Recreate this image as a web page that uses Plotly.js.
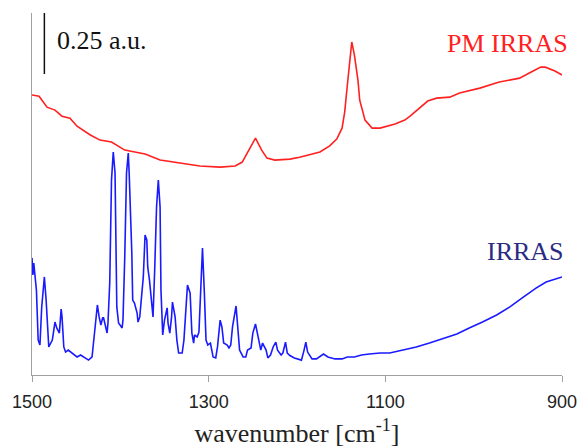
<!DOCTYPE html>
<html>
<head>
<meta charset="utf-8">
<script src="https://cdn.plot.ly/plotly-3.0.1.min.js"></script>
<style>html,body{margin:0;padding:0;background:#fff;}#chart{width:579px;height:448px;}</style>
</head>
<body>
<div id="chart"></div>
<script>
// Wavenumber axis ticks
const tickVals = [1500, 1300, 1100, 900];

// PM IRRAS spectrum (offset, a.u.)
const pmWavenumber = [1500,1492,1483,1474,1466,1457,1449,1434,1423,1410,1395,1372,1355,1333,1310,1287,1270,1262,1253,1247,1240,1234,1225,1208,1197,1174,1163,1155,1149,1146,1143,1140,1138,1135,1131,1129,1123,1115,1106,1089,1078,1072,1061,1052,1042,1027,1016,993,971,948,937,924,919,908,900];
const pmSignal = [1.148,1.143,1.098,1.086,1.061,1.053,1.020,0.984,0.963,0.955,0.922,0.906,0.881,0.869,0.857,0.852,0.857,0.873,0.930,0.971,0.922,0.889,0.881,0.885,0.893,0.914,0.939,0.967,1.012,1.078,1.189,1.311,1.365,1.311,1.209,1.127,1.045,1.012,1.012,1.029,1.045,1.061,1.094,1.123,1.135,1.139,1.156,1.176,1.201,1.217,1.238,1.262,1.262,1.246,1.230];

// IRRAS spectrum (a.u.)
const irWavenumber = [1500,1499,1498,1495,1493,1491,1489,1486,1484,1482,1481,1477,1476,1474,1472,1469,1467,1466,1464,1462,1459,1455,1449,1445,1440,1436,1432,1430,1426,1424,1422,1420,1419,1415,1414,1412,1410,1408,1406,1404,1402,1398,1397,1395,1393,1391,1390,1387,1386,1384,1381,1380,1378,1374,1372,1370,1369,1367,1364,1363,1361,1359,1357,1355,1354,1352,1350,1347,1346,1344,1342,1341,1338,1336,1334,1330,1328,1326,1324,1321,1319,1317,1316,1313,1311,1309,1307,1305,1303,1301,1298,1295,1292,1290,1287,1285,1283,1279,1277,1275,1273,1269,1267,1265,1261,1258,1256,1252,1250,1247,1244,1241,1239,1235,1233,1230,1227,1224,1222,1218,1216,1213,1211,1208,1203,1195,1192,1190,1188,1183,1178,1172,1170,1165,1157,1149,1143,1135,1127,1118,1106,1095,1080,1065,1050,1035,1019,1005,990,974,959,945,929,918,906,900];
const irSignal = [0.480,0.410,0.459,0.348,0.143,0.123,0.279,0.402,0.307,0.156,0.115,0.143,0.176,0.217,0.193,0.172,0.270,0.238,0.115,0.094,0.102,0.090,0.074,0.082,0.070,0.061,0.074,0.143,0.287,0.238,0.205,0.234,0.234,0.172,0.213,0.377,0.799,0.914,0.828,0.279,0.213,0.193,0.225,0.484,0.828,0.910,0.828,0.500,0.307,0.295,0.254,0.217,0.238,0.402,0.574,0.553,0.443,0.389,0.279,0.238,0.443,0.689,0.799,0.689,0.348,0.164,0.225,0.275,0.213,0.172,0.238,0.299,0.238,0.143,0.090,0.090,0.143,0.279,0.369,0.336,0.172,0.131,0.164,0.156,0.176,0.348,0.520,0.348,0.143,0.123,0.131,0.074,0.070,0.115,0.225,0.197,0.131,0.123,0.111,0.123,0.197,0.283,0.197,0.102,0.074,0.074,0.102,0.111,0.172,0.209,0.156,0.102,0.131,0.102,0.070,0.082,0.115,0.135,0.102,0.082,0.090,0.135,0.090,0.080,0.070,0.061,0.102,0.135,0.094,0.066,0.066,0.082,0.086,0.074,0.066,0.066,0.074,0.074,0.082,0.086,0.090,0.090,0.102,0.115,0.131,0.148,0.168,0.193,0.217,0.246,0.279,0.316,0.357,0.381,0.393,0.402];

// Scale bar: 0.25 a.u.
const scaleBarX = 1486;
const scaleBarBottom = 1.234;
const scaleBarLength = 0.25;

const serif = '"Liberation Serif", "Times New Roman", serif';
const sans = '"Liberation Sans", Arial, sans-serif';

const traces = [
  {x: pmWavenumber, y: pmSignal, type: 'scatter', mode: 'lines', name: 'PM IRRAS',
   line: {color: '#ff2020', width: 1.6}, hoverinfo: 'x+y'},
  {x: irWavenumber, y: irSignal, type: 'scatter', mode: 'lines', name: 'IRRAS',
   line: {color: '#1a1aff', width: 1.6}, hoverinfo: 'x+y'}
];

const layout = {
  width: 579, height: 448,
  margin: {l: 32, r: 17, t: 13, b: 73},
  paper_bgcolor: '#ffffff', plot_bgcolor: '#ffffff',
  showlegend: false,
  xaxis: {
    range: [1500, 900], tickvals: tickVals, ticktext: tickVals.map(String),
    ticks: 'outside', ticklen: 6, tickcolor: '#a0a0a0', tickwidth: 1,
    showline: true, linecolor: '#a0a0a0', linewidth: 1, mirror: false,
    showgrid: false, zeroline: false,
    tickfont: {family: sans, size: 18, color: '#222222'},
    ticklabelstandoff: 4,
    title: {text: 'wavenumber [cm<sup>-1</sup>]', font: {family: serif, size: 26, color: '#222222'}, standoff: 13}
  },
  yaxis: {
    range: [0, 1.484], showline: true, linecolor: '#a0a0a0', linewidth: 1,
    showticklabels: false, ticks: '', showgrid: false, zeroline: false
  },
  shapes: [
    {type: 'line', xref: 'x', yref: 'y', x0: scaleBarX, x1: scaleBarX,
     y0: scaleBarBottom, y1: scaleBarBottom + scaleBarLength,
     line: {color: '#111111', width: 1.5}}
  ],
  annotations: [
    {xref: 'x', yref: 'y', x: 1474, y: 1.373, xanchor: 'left', yanchor: 'middle', showarrow: false,
     text: '0.25 a.u.', font: {family: serif, size: 26, color: '#111111'}},
    {xref: 'paper', yref: 'y', x: 1.015, y: 1.361, xanchor: 'right', yanchor: 'middle', showarrow: false,
     text: 'PM IRRAS', font: {family: serif, size: 26, color: '#ff2020'}},
    {xref: 'paper', yref: 'y', x: 1.008, y: 0.508, xanchor: 'right', yanchor: 'middle', showarrow: false,
     text: 'IRRAS', font: {family: serif, size: 26, color: '#2b2b82'}}
  ]
};

Plotly.newPlot('chart', traces, layout, {displayModeBar: false, staticPlot: true});
</script>
</body>
</html>
